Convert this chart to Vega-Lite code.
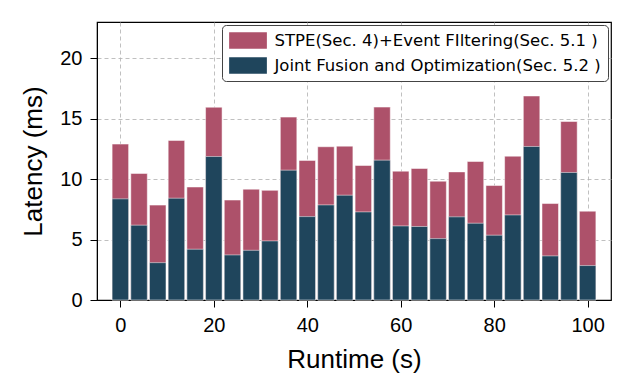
{
  "$schema": "https://vega.github.io/schema/vega-lite/v6.json",
  "width": 514,
  "height": 278,
  "autosize": {"type": "none"},
  "padding": {"left": 97, "top": 22, "right": 22, "bottom": 92},
  "background": "white",
  "config": {
    "view": {"stroke": "black", "strokeWidth": 1.2},
    "axis": {
      "labelFont": "Liberation Sans",
      "titleFont": "Liberation Sans",
      "labelFontSize": 20,
      "titleFontSize": 26,
      "titleFontWeight": "normal",
      "labelColor": "black",
      "titleColor": "black",
      "domainColor": "black",
      "tickColor": "black",
      "tickSize": 7,
      "labelPadding": 8,
      "gridColor": "#b0b0b0",
      "gridDash": [4, 3],
      "gridWidth": 0.8
    }
  },
  "data": {
    "values": [
      {"runtime": 0, "series": "STPE", "latency": 12.9},
      {"runtime": 4, "series": "STPE", "latency": 10.47},
      {"runtime": 8, "series": "STPE", "latency": 7.85},
      {"runtime": 12, "series": "STPE", "latency": 13.2},
      {"runtime": 16, "series": "STPE", "latency": 9.35},
      {"runtime": 20, "series": "STPE", "latency": 15.95},
      {"runtime": 24, "series": "STPE", "latency": 8.27},
      {"runtime": 28, "series": "STPE", "latency": 9.17},
      {"runtime": 32, "series": "STPE", "latency": 9.07},
      {"runtime": 36, "series": "STPE", "latency": 15.13},
      {"runtime": 40, "series": "STPE", "latency": 11.55},
      {"runtime": 44, "series": "STPE", "latency": 12.68},
      {"runtime": 48, "series": "STPE", "latency": 12.73},
      {"runtime": 52, "series": "STPE", "latency": 11.13},
      {"runtime": 56, "series": "STPE", "latency": 15.96},
      {"runtime": 60, "series": "STPE", "latency": 10.66},
      {"runtime": 64, "series": "STPE", "latency": 10.88},
      {"runtime": 68, "series": "STPE", "latency": 9.83},
      {"runtime": 72, "series": "STPE", "latency": 10.6},
      {"runtime": 76, "series": "STPE", "latency": 11.46},
      {"runtime": 80, "series": "STPE", "latency": 9.47},
      {"runtime": 84, "series": "STPE", "latency": 11.9},
      {"runtime": 88, "series": "STPE", "latency": 16.88},
      {"runtime": 92, "series": "STPE", "latency": 7.98},
      {"runtime": 96, "series": "STPE", "latency": 14.77},
      {"runtime": 100, "series": "STPE", "latency": 7.35},
      {"runtime": 0, "series": "Joint", "latency": 8.37},
      {"runtime": 4, "series": "Joint", "latency": 6.19},
      {"runtime": 8, "series": "Joint", "latency": 3.09},
      {"runtime": 12, "series": "Joint", "latency": 8.42},
      {"runtime": 16, "series": "Joint", "latency": 4.2},
      {"runtime": 20, "series": "Joint", "latency": 11.87},
      {"runtime": 24, "series": "Joint", "latency": 3.73},
      {"runtime": 28, "series": "Joint", "latency": 4.11},
      {"runtime": 32, "series": "Joint", "latency": 4.89},
      {"runtime": 36, "series": "Joint", "latency": 10.74},
      {"runtime": 40, "series": "Joint", "latency": 6.9},
      {"runtime": 44, "series": "Joint", "latency": 7.87},
      {"runtime": 48, "series": "Joint", "latency": 8.67},
      {"runtime": 52, "series": "Joint", "latency": 7.29},
      {"runtime": 56, "series": "Joint", "latency": 11.57},
      {"runtime": 60, "series": "Joint", "latency": 6.13},
      {"runtime": 64, "series": "Joint", "latency": 6.08},
      {"runtime": 68, "series": "Joint", "latency": 5.08},
      {"runtime": 72, "series": "Joint", "latency": 6.88},
      {"runtime": 76, "series": "Joint", "latency": 6.35},
      {"runtime": 80, "series": "Joint", "latency": 5.36},
      {"runtime": 84, "series": "Joint", "latency": 7.04},
      {"runtime": 88, "series": "Joint", "latency": 12.7},
      {"runtime": 92, "series": "Joint", "latency": 3.65},
      {"runtime": 96, "series": "Joint", "latency": 10.55},
      {"runtime": 100, "series": "Joint", "latency": 2.85}
    ]
  },
  "encoding": {
    "x": {
      "field": "runtime",
      "type": "quantitative",
      "scale": {"domain": [-5, 105], "nice": false, "zero": false, "padding": 0},
      "axis": {"values": [0, 20, 40, 60, 80, 100], "grid": true, "title": "Runtime (s)", "titlePadding": 11}
    },
    "y": {
      "field": "latency",
      "type": "quantitative",
      "stack": null,
      "scale": {"domain": [0, 23], "nice": false},
      "axis": {"values": [0, 5, 10, 15, 20], "grid": true, "title": "Latency (ms)", "titlePadding": 13}
    },
    "color": {
      "field": "series",
      "type": "nominal",
      "scale": {
        "domain": ["STPE", "Joint"],
        "range": ["#ad516a", "#1f455c"]
      },
      "legend": {
        "title": null,
        "orient": "top-right",
        "offset": 3,
        "labelExpr": "datum.value == 'STPE' ? 'STPE(Sec. 4)+Event FIltering(Sec. 5.1 )' : 'Joint Fusion and Optimization(Sec. 5.2 )'",
        "labelFont": "DejaVu Sans",
        "labelFontSize": 16.5,
        "labelColor": "black",
        "labelLimit": 0,
        "symbolType": "M-2.26,-1H2.26V1H-2.26Z",
        "symbolSize": 279,
        "symbolOffset": 10.5,
        "symbolStrokeWidth": 0,
        "symbolOpacity": 1,
        "rowPadding": 8,
        "labelOffset": 18,
        "padding": 7,
        "strokeColor": "#444444",
        "fillColor": "white",
        "cornerRadius": 4
      }
    }
  },
  "layer": [
    {
      "transform": [{"filter": "datum.series == 'STPE'"}],
      "mark": {"type": "bar", "size": 16.5, "stroke": "white", "strokeWidth": 1, "strokeOpacity": 0.5, "opacity": 1}
    },
    {
      "transform": [{"filter": "datum.series == 'Joint'"}],
      "mark": {"type": "bar", "size": 16.5, "stroke": "white", "strokeWidth": 1, "strokeOpacity": 0.5, "opacity": 1}
    }
  ]
}
